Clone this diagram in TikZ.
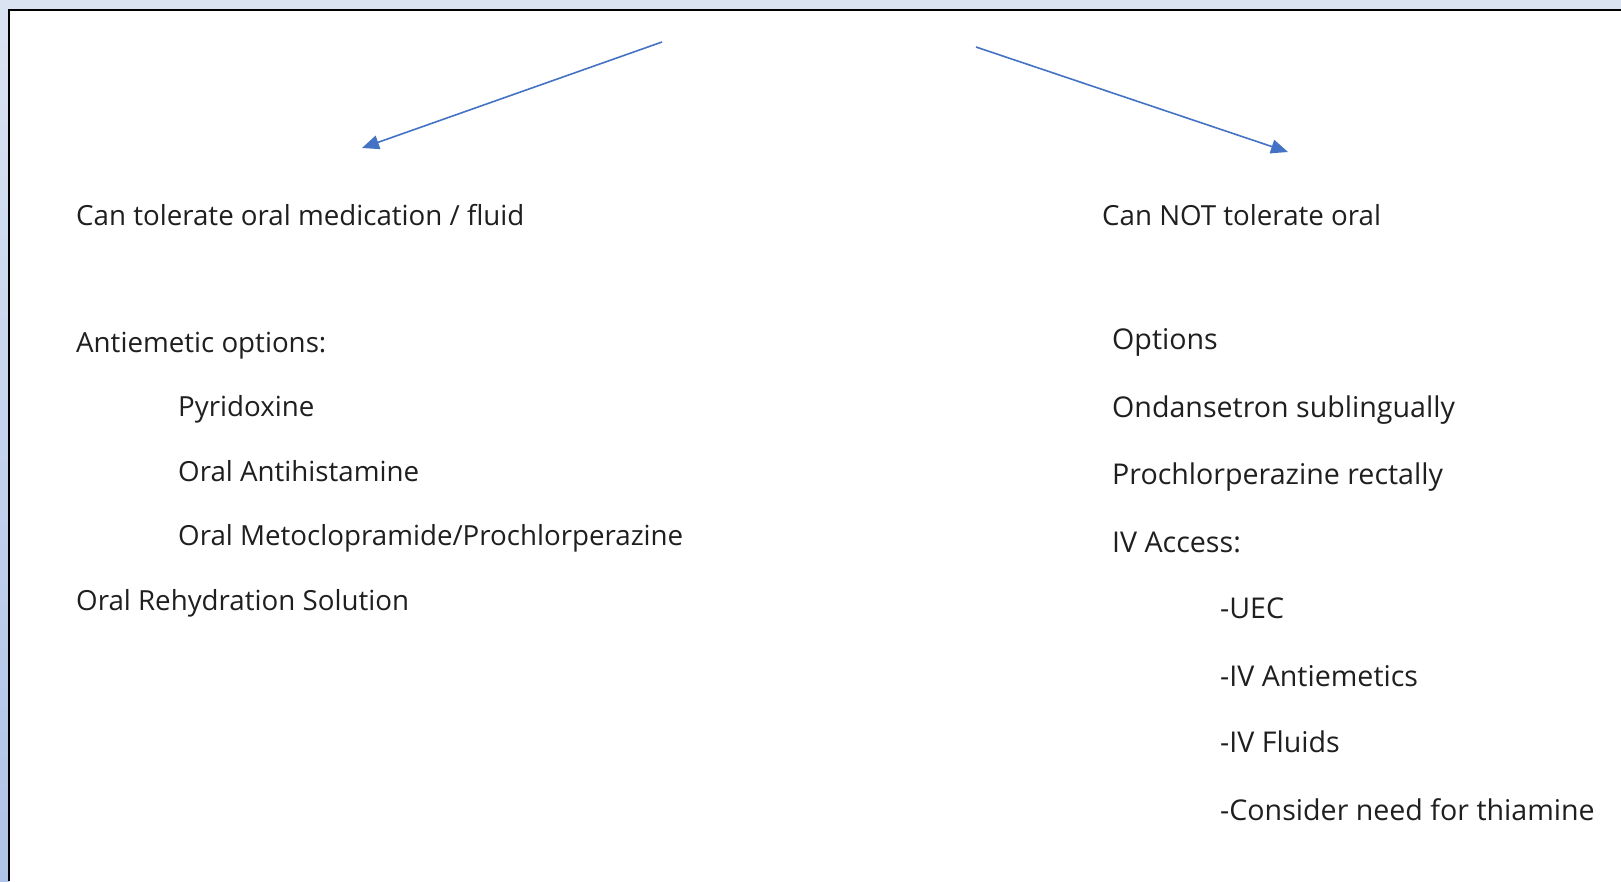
\documentclass[tikz,border=0pt]{standalone}
\usepackage{fontspec}
\setmainfont{Open Sans}
\usetikzlibrary{arrows.meta}
\definecolor{frameblue}{HTML}{DAE3F1}
\definecolor{stripblue}{HTML}{AFC3E8}
\definecolor{arrowblue}{HTML}{4472C4}
\tikzset{
  txt/.style={anchor=base west, inner sep=0pt, text=black!88, font=\fontsize{27.7}{32}\selectfont},
  rtxt/.style={txt, font=\fontsize{28.6}{33}\selectfont},
  branch/.style={arrowblue, line width=1.6pt, -{Triangle[length=17pt,width=14pt]}}
}
\begin{document}
\begin{tikzpicture}[x=1pt,y=-1pt]
\useasboundingbox (0,0) rectangle (1621,881);
\fill[frameblue] (0,0) rectangle (1621,881);
\shade[top color=frameblue, bottom color=stripblue] (0,0) rectangle (9,881);
\fill[white] (9,10) rectangle (1621,881);
\draw[line width=2.2pt] (9,881) -- (9,10) -- (1621,10);

\coordinate (lstart) at (662,42);
\coordinate (ltip) at (362,148);
\coordinate (rstart) at (976,47);
\coordinate (rtip) at (1288,152);
\draw[branch] (lstart) -- (ltip);
\draw[branch] (rstart) -- (rtip);

\node[txt] (oral) at (76,225) {Can tolerate oral medication / fluid};
\node[txt] (nooral) at (1102,225) {Can NOT tolerate oral};

\node[txt] (anti) at (76,352) {Antiemetic options:};
\node[txt] (pyr) at (178,416) {Pyridoxine};
\node[txt] (hist) at (178,481) {Oral Antihistamine};
\node[txt] (meto) at (178,545) {Oral Metoclopramide/Prochlorperazine};
\node[txt] (ors) at (76,610) {Oral Rehydration Solution};

\node[rtxt] (opts) at (1112,349) {Options};
\node[rtxt] (ond) at (1112,417) {Ondansetron sublingually};
\node[rtxt] (pcz) at (1112,484) {Prochlorperazine rectally};
\node[rtxt] (iv) at (1112,552) {IV Access:};
\node[rtxt] (uec) at (1220,618) {-UEC};
\node[rtxt] (ivanti) at (1220,686) {-IV Antiemetics};
\node[rtxt] (ivfl) at (1220,752) {-IV Fluids};
\node[rtxt] (thia) at (1220,820) {-Consider need for thiamine};
\end{tikzpicture}
\end{document}
